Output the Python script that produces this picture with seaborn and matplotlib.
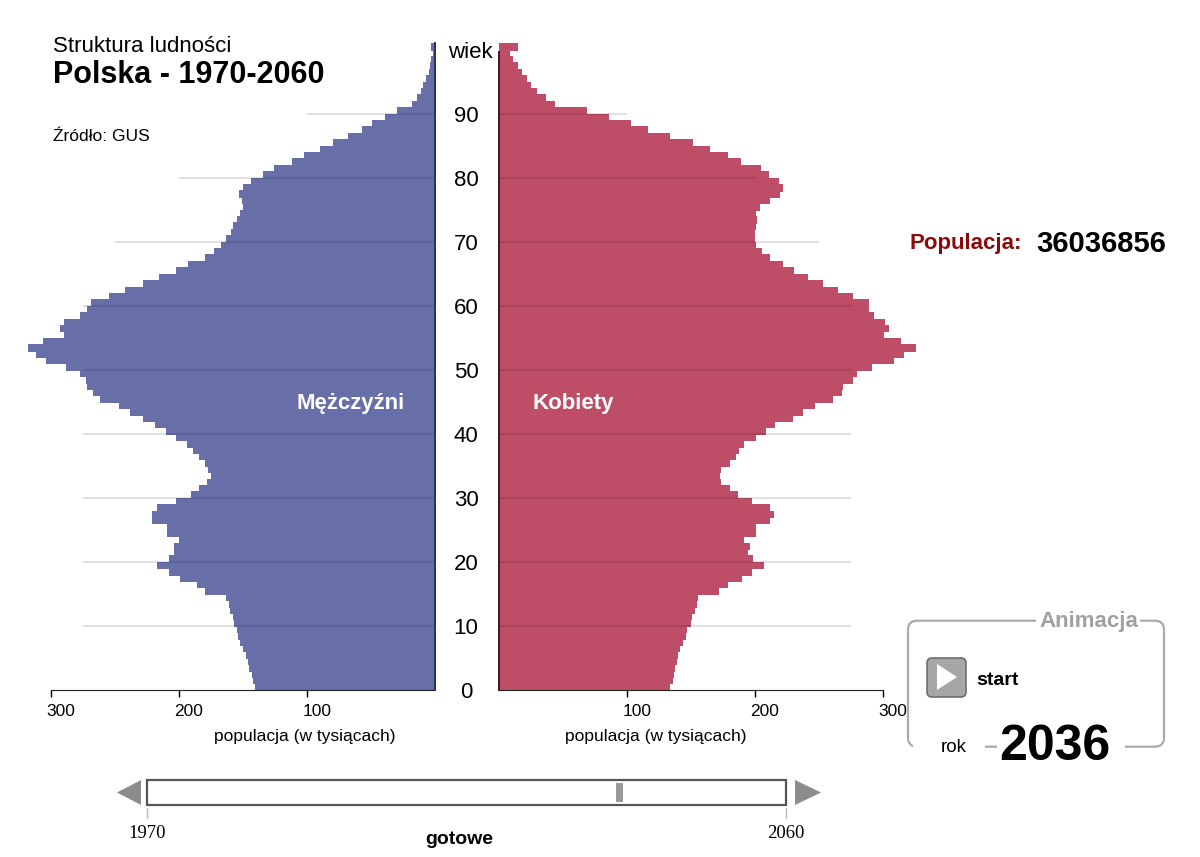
import numpy as np
import pandas as pd
import seaborn as sns
import matplotlib.pyplot as plt
from matplotlib.patches import FancyBboxPatch, Rectangle, Polygon
from matplotlib import transforms

# dane: populacja w tysiącach, wiek 0-100
wiek = list(range(0, 101))
mezczyzni = [141, 142, 143, 145, 146, 148, 150, 152, 154, 155,
             157, 158, 160, 161, 163, 180, 186, 199, 208, 217,
             208, 204, 204, 200, 209, 209, 221, 221, 217, 202,
             191, 184, 178, 175, 177, 180, 184, 189, 194, 202,
             210, 219, 228, 238, 247, 262, 267, 272, 273, 277,
             288, 304, 312, 318, 306, 290, 293, 290, 277, 272,
             269, 255, 242, 228, 216, 202, 193, 180, 173, 167,
             163, 159, 158, 155, 152, 150, 151, 153, 150, 144,
             134, 126, 112, 102, 90, 80, 68, 57, 49, 39,
             30, 18, 14, 11, 9, 7, 5, 4, 3, 1.5, 3.5]
kobiety = [133, 135, 136, 137, 138, 139, 141, 143, 145, 146,
           149, 150, 152, 154, 155, 171, 178, 189, 197, 206,
           198, 194, 195, 191, 200, 200, 211, 214, 211, 197,
           186, 180, 173, 172, 173, 180, 184, 187, 191, 200,
           208, 215, 229, 237, 246, 260, 267, 268, 276, 279,
           291, 308, 316, 325, 313, 300, 304, 301, 292, 288,
           288, 276, 264, 252, 241, 230, 221, 211, 205, 200,
           199, 199, 200, 201, 200, 203, 211, 219, 221, 218,
           210, 204, 188, 178, 164, 151, 133, 116, 102, 85,
           68, 43, 36, 29, 24, 21, 17, 14, 10, 8, 14]
wiek_ticks = [0, 10, 20, 30, 40, 50, 60, 70, 80, 90]
siatka_zasieg = [275, 275, 275, 275, 275, 275, 250, 200, 100]
pop_ticks = [100, 200, 300]
populacja = 36036856
rok = 2036
rok_od, rok_do = 1970, 2060

df = pd.DataFrame({"wiek": wiek, "m": mezczyzni, "k": kobiety})

sns.set_style("white")
plt.rcParams["font.family"] = ["Liberation Sans", "DejaVu Sans"]
plt.rcParams["text.color"] = "black"
plt.rcParams["xtick.color"] = "black"

W, H = 1200, 857
fig = plt.figure(figsize=(12, 8.57), dpi=100)


def box(x0, y0, x1, y1):
    return [x0 / W, 1 - y1 / H, (x1 - x0) / W, (y1 - y0) / H]


niebieski = "#676ea8"
czerwony = "#be4e67"
ax_l = fig.add_axes(box(51, 43.3, 435, 689.7))
ax_r = fig.add_axes(box(499, 43.3, 883, 689.7))

sns.histplot(data=df, y="wiek", weights="m", binwidth=1, binrange=(0, 101),
             ax=ax_l, color=niebieski, alpha=1, edgecolor=niebieski,
             linewidth=0.6)
sns.histplot(data=df, y="wiek", weights="k", binwidth=1, binrange=(0, 101),
             ax=ax_r, color=czerwony, alpha=1, edgecolor=czerwony,
             linewidth=0.6)

for ax, strona in ((ax_l, "right"), (ax_r, "left")):
    for p in ax.patches:
        p.set_clip_on(False)
        p.set_antialiased(False)
    ax.set_xlim(0, 300)
    ax.set_ylim(0, 101)
    ax.set_xlabel("")
    ax.set_ylabel("")
    ax.set_yticks([])
    ax.set_xticks(pop_ticks)
    ax.tick_params(axis="x", length=5, width=1, pad=5, labelsize=12.5,
                   colors="black", direction="out", bottom=True)
    for s in ax.spines.values():
        s.set_visible(False)
    ax.spines["bottom"].set_visible(True)
    ax.spines["bottom"].set_color("#222")
    ax.spines[strona].set_visible(True)
    ax.spines[strona].set_linewidth(1.4)
    ax.spines[strona].set_zorder(4)
    for a, zasieg in zip(wiek_ticks[1:], siatka_zasieg):
        ax.hlines(a, 0, zasieg, color="black", alpha=0.13, lw=1.3, zorder=3)
ax_l.invert_xaxis()
ax_l.spines["right"].set_color("#2e3258")
ax_r.spines["left"].set_color("#4a1525")
ax_r.spines["left"].set_bounds(0, 99.7)

shift = transforms.ScaledTranslation(10 / 100, 0, fig.dpi_scale_trans)
for ax in (ax_l, ax_r):
    for lab in ax.get_xticklabels():
        lab.set_transform(lab.get_transform() + shift)

# warstwa z tekstem i kontrolkami w pikselach
ov = fig.add_axes([0, 0, 1, 1])
ov.set_xlim(0, W)
ov.set_ylim(H, 0)
ov.axis("off")
ov.patch.set_visible(False)


def put(x, yc, s, pt, ha="left", **kw):
    # yc = środek wysokości wersalików w pikselach
    ov.text(x, yc + 0.358 * pt * 100 / 72, s, fontsize=pt, ha=ha,
            va="baseline", **kw)


blend = transforms.blended_transform_factory(ov.transData, ax_r.transData)
lift = transforms.ScaledTranslation(0, -8 / 100, fig.dpi_scale_trans)
for a in wiek_ticks:
    ov.text(466, a, str(a), fontsize=16, ha="center", va="baseline",
            transform=blend + lift)
ov.text(470, 100, "wiek", fontsize=16, ha="center", va="baseline",
        transform=blend + lift)

put(52.7, 43.8, "Struktura ludności", 16)
put(52.7, 72.5, "Polska - 1970-2060", 22, fontweight="bold")
put(52.7, 135, "Źródło: GUS", 12.5)
put(350.5, 401, "Mężczyźni", 16, ha="center", color="white", fontweight="bold")
put(573, 401, "Kobiety", 16, ha="center", color="white", fontweight="bold")
put(304.5, 735, "populacja (w tysiącach)", 12.5, ha="center")
put(655.7, 735, "populacja (w tysiącach)", 12.5, ha="center")
put(909.3, 241.5, "Populacja:", 16, color="#8b0a0a", fontweight="bold")
put(1036.7, 241.7, str(populacja), 21, fontweight="bold")

# ramka animacji
ov.add_patch(FancyBboxPatch((908, 620.7), 256, 126,
                            boxstyle="round,pad=0,rounding_size=9",
                            fc="none", ec="#aaaaaa", lw=1.6))
for x0, x1, y0, y1 in ((1036, 1140, 614, 628), (913, 985, 739, 753),
                       (997, 1125, 739, 753)):
    ov.add_patch(Rectangle((x0, y0), x1 - x0, y1 - y0, fc="white",
                           ec="none", zorder=2))
put(1039, 619, "Animacja", 16, color="#a0a0a0", fontweight="bold", zorder=3)
ov.add_patch(FancyBboxPatch((927, 658), 39, 39,
                            boxstyle="round,pad=0,rounding_size=5",
                            fc="#a6a6a6", ec="#6e6e6e", lw=1.2))
ov.add_patch(Polygon([(937, 664), (937, 690), (957, 677)], closed=True,
                     fc="white", ec="none"))
put(976.7, 678.5, "start", 14, fontweight="bold")
put(941, 745, "rok", 13.5, zorder=3)
put(999.3, 742.5, str(rok), 36, fontweight="bold", zorder=3)

# suwak lat
sx0, sx1 = 147, 786
ov.add_patch(Rectangle((sx0, 780), sx1 - sx0, 25, fc="white", ec="#555555",
                       lw=1.6))
pos = sx0 + (rok - rok_od) / (rok_do - rok_od) * (sx1 - sx0)
ov.add_patch(Rectangle((pos, 783), 7, 19, fc="#999999", ec="none"))
ov.add_patch(Polygon([(117, 792.5), (141, 780), (141, 805)], closed=True,
                     fc="#8c8c8c", ec="none"))
ov.add_patch(Polygon([(795, 780), (795, 805), (821, 792.5)], closed=True,
                     fc="#8c8c8c", ec="none"))
for x in (sx0, sx1):
    ov.plot([x, x], [808, 818], color="#bbbbbb", lw=1)
put(sx0, 831.7, str(rok_od), 13.5, ha="center",
    family=["Liberation Serif", "DejaVu Serif"])
put(sx1, 831.7, str(rok_do), 13.5, ha="center",
    family=["Liberation Serif", "DejaVu Serif"])
put(459.5, 837, "gotowe", 14, ha="center", fontweight="bold")

fig.savefig("out.png", dpi=100)
